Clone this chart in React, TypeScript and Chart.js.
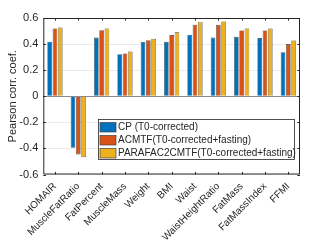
import React, { useEffect, useRef } from "react";
import { Chart, registerables } from "chart.js";

Chart.register(...registerables);

const categories = [
  "HOMAIR",
  "MuscleFatRatio",
  "FatPercent",
  "MuscleMass",
  "Weight",
  "BMI",
  "Waist",
  "WaistHeightRatio",
  "FatMass",
  "FatMassIndex",
  "FFMI",
];

const seriesNames = [
  "CP (T0-corrected)",
  "ACMTF(T0-corrected+fasting)",
  "PARAFAC2CMTF(T0-corrected+fasting)",
];

const cpValues = [0.418, -0.395, 0.45, 0.323, 0.418, 0.418, 0.472, 0.45, 0.456, 0.446, 0.338];
const acmtfValues = [0.52, -0.446, 0.507, 0.328, 0.43, 0.469, 0.548, 0.548, 0.505, 0.505, 0.4];
const parafacValues = [0.528, -0.467, 0.52, 0.344, 0.44, 0.49, 0.572, 0.574, 0.52, 0.52, 0.428];

const seriesColors = ["#0072BD", "#D95319", "#EDB120"];
const yTicks = [-0.6, -0.4, -0.2, 0, 0.2, 0.4, 0.6];

const FONT = "'Liberation Sans', Arial, Helvetica, sans-serif";
const AXIS = "#262626";

const boxPlugin = {
  id: "matlabBox",
  afterDatasetsDraw(chart: any) {
    const { ctx, chartArea, scales } = chart;
    const { left, right, top, bottom } = chartArea;
    ctx.save();
    // baseline at zero
    const y0 = scales.y.getPixelForValue(0);
    ctx.strokeStyle = "#8a8a8a";
    ctx.lineWidth = 1;
    ctx.beginPath();
    ctx.moveTo(left, Math.round(y0) + 0.5);
    ctx.lineTo(right, Math.round(y0) + 0.5);
    ctx.stroke();
    // box
    ctx.strokeStyle = AXIS;
    ctx.lineWidth = 1;
    ctx.beginPath();
    ctx.moveTo(left + 0.5, top + 0.5);
    ctx.lineTo(right - 0.5, top + 0.5);
    ctx.lineTo(right - 0.5, bottom - 0.5);
    ctx.lineTo(left + 0.5, bottom - 0.5);
    ctx.closePath();
    ctx.stroke();
    // inward ticks
    const tl = 2.6;
    ctx.beginPath();
    for (let i = 0; i < categories.length; i++) {
      const x = Math.round(scales.x.getPixelForValue(i)) + 0.5;
      ctx.moveTo(x, bottom);
      ctx.lineTo(x, bottom - tl);
      ctx.moveTo(x, top);
      ctx.lineTo(x, top + tl);
    }
    for (const v of yTicks) {
      const y = Math.round(scales.y.getPixelForValue(v)) + 0.5;
      ctx.moveTo(left, y);
      ctx.lineTo(left + tl, y);
      ctx.moveTo(right, y);
      ctx.lineTo(right - tl, y);
    }
    ctx.stroke();

    // legend
    const lw = 196;
    const lh = 40;
    const lx = right - 6 - lw;
    const ly = bottom - 15.5 - lh;
    ctx.fillStyle = "#ffffff";
    ctx.fillRect(lx, ly, lw, lh);
    ctx.strokeStyle = AXIS;
    ctx.lineWidth = 0.8;
    ctx.strokeRect(Math.round(lx) + 0.5, Math.round(ly) + 0.5, lw, lh);
    ctx.font = `10px ${FONT}`;
    ctx.textBaseline = "middle";
    ctx.textAlign = "left";
    chart.data.datasets.forEach((ds: any, i: number) => {
      const cy = ly + 8 + i * 13;
      ctx.fillStyle = ds.backgroundColor;
      ctx.fillRect(lx + 2, cy - 4.5, 16, 9.5);
      ctx.strokeStyle = "#444";
      ctx.lineWidth = 0.7;
      ctx.strokeRect(lx + 2, cy - 4.5, 16, 9.5);
      ctx.fillStyle = AXIS;
      ctx.fillText(ds.label, lx + 20, cy + 0.5);
    });
    ctx.restore();
  },
};

export default function App() {
  const ref = useRef<HTMLCanvasElement | null>(null);

  useEffect(() => {
    document.body.style.margin = "0";
    const canvas = ref.current;
    if (!canvas) return;
    const data = [cpValues, acmtfValues, parafacValues];
    const chart = new Chart(canvas, {
      type: "bar",
      data: {
        labels: categories,
        datasets: seriesNames.map((name, i) => ({
          label: name,
          data: data[i],
          backgroundColor: seriesColors[i],
          borderColor: "#3a3a3a",
          borderWidth: 0.6,
          categoryPercentage: 0.68,
          barPercentage: 0.88,
        })),
      },
      options: {
        animation: false,
        responsive: true,
        maintainAspectRatio: false,
        layout: { padding: { top: 18, right: 32, left: 0, bottom: 0 } },
        plugins: {
          legend: { display: false },
          tooltip: { enabled: false },
        },
        scales: {
          x: {
            grid: { display: false, drawTicks: false },
            border: { display: false },
            ticks: {
              color: AXIS,
              font: { family: FONT, size: 10 },
              minRotation: 45,
              maxRotation: 45,
              padding: 6,
              autoSkip: false,
            },
            afterFit(scale: any) {
              scale.height = 72.5;
            },
          },
          y: {
            min: -0.6,
            max: 0.6,
            grid: { color: "#ebebeb", drawTicks: false, lineWidth: 1 },
            border: { display: false },
            ticks: {
              stepSize: 0.2,
              color: AXIS,
              font: { family: FONT, size: 11 },
              padding: 5,
              callback: (v: any) => {
                const n = Math.round(Number(v) * 10) / 10;
                return n === 0 ? "0" : n.toFixed(1);
              },
            },
            title: {
              display: true,
              text: "Pearson corr. coef.",
              color: AXIS,
              font: { family: FONT, size: 11, weight: "normal" },
              padding: { top: 6, bottom: 0 },
            },
            afterFit(scale: any) {
              scale.width = 43.3;
            },
          },
        },
      },
      plugins: [boxPlugin],
    });
    return () => chart.destroy();
  }, []);

  return (
    <div style={{ position: "absolute", left: 0, top: 0, width: 332, height: 247, background: "#fff" }}>
      <canvas ref={ref} />
    </div>
  );
}
